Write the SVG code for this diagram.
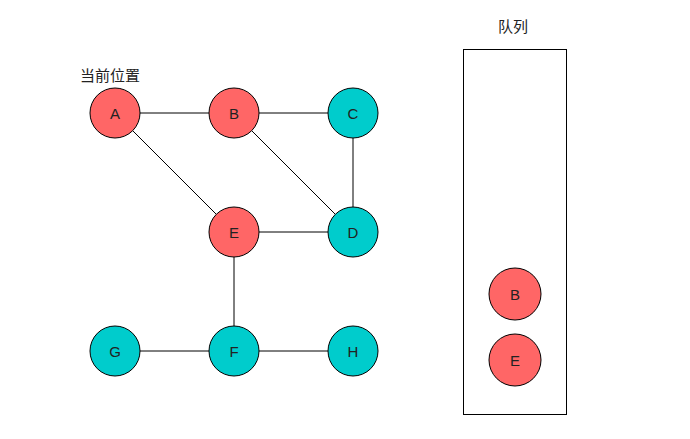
<svg xmlns="http://www.w3.org/2000/svg" width="690" height="439" viewBox="0 0 690 439">
<style>
.n{stroke:#000;stroke-width:1}
.r{fill:#FF6666}.c{fill:#00CCCC}
text{font-family:"Liberation Sans","Noto Sans CJK SC",sans-serif;font-size:15px;fill:#222}
.l{text-anchor:middle;dominant-baseline:central}
.e{stroke:#000;stroke-width:1;fill:none}
</style>
<rect width="690" height="439" fill="#fff"/>
<g id="connectors">
<line class="e" x1="140" y1="113" x2="209" y2="113"/>
<line class="e" x1="259" y1="113" x2="328" y2="113"/>
<line class="e" x1="353" y1="138" x2="353" y2="207"/>
<line class="e" x1="133" y1="131" x2="216" y2="214"/>
<line class="e" x1="252" y1="131" x2="335" y2="214"/>
<line class="e" x1="259" y1="232" x2="328" y2="232"/>
<line class="e" x1="234" y1="257" x2="234" y2="326"/>
<line class="e" x1="140" y1="351" x2="209" y2="351"/>
<line class="e" x1="259" y1="351" x2="328" y2="351"/>
</g>
<text x="80" y="81">当前位置</text>
<text x="513" y="32" class="l" style="dominant-baseline:auto">队列</text>
<g id="queue"><rect x="463.5" y="49.5" width="103" height="365" fill="none" stroke="#000"/></g>
<g id="A"><circle class="n r" cx="115" cy="113" r="25"/><text class="l" x="115" y="113">A</text></g>
<g id="B"><circle class="n r" cx="234" cy="113" r="25"/><text class="l" x="234" y="113">B</text></g>
<g id="C"><circle class="n c" cx="353" cy="113" r="25"/><text class="l" x="353" y="113">C</text></g>
<g id="E"><circle class="n r" cx="234" cy="232" r="25"/><text class="l" x="234" y="232">E</text></g>
<g id="D"><circle class="n c" cx="353" cy="232" r="25"/><text class="l" x="353" y="232">D</text></g>
<g id="G"><circle class="n c" cx="115" cy="351" r="25"/><text class="l" x="115" y="351">G</text></g>
<g id="F"><circle class="n c" cx="234" cy="351" r="25"/><text class="l" x="234" y="351">F</text></g>
<g id="H"><circle class="n c" cx="353" cy="351" r="25"/><text class="l" x="353" y="351">H</text></g>
<g id="qB"><circle class="n r" cx="515" cy="294" r="26"/><text class="l" x="515" y="294">B</text></g>
<g id="qE"><circle class="n r" cx="515" cy="360" r="26"/><text class="l" x="515" y="360">E</text></g>
</svg>
